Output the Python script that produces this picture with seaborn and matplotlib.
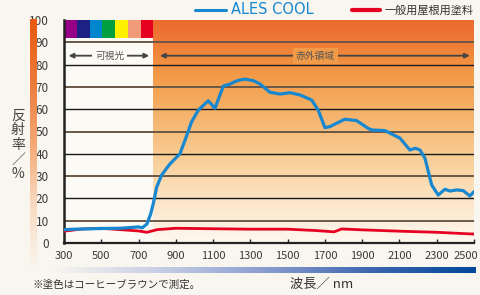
import numpy as np
import pandas as pd
import seaborn as sns
import matplotlib.pyplot as plt
import matplotlib.transforms as mtransforms
from matplotlib.colors import LinearSegmentedColormap
from matplotlib.lines import Line2D

# data
ales_nm = [300, 400, 500, 600, 650, 700, 720, 745, 765, 780, 797, 824, 869, 922, 949, 985,
           1021, 1074, 1110, 1155, 1191, 1230, 1271, 1316, 1352, 1405, 1459, 1512, 1566,
           1629, 1664, 1700, 1727, 1770, 1807, 1870, 1932, 1951, 2022, 2103, 2156, 2185,
           2210, 2237, 2273, 2308, 2344, 2371, 2407, 2442, 2478, 2500]
ales_val = [6.0, 6.3, 6.5, 6.6, 6.9, 7.2, 6.8, 8.5, 13, 18, 25, 30.5, 35.5, 40, 46, 54.4,
            59.6, 63.8, 60.4, 70.4, 71.3, 72.8, 73.5, 72.8, 71.3, 67.6, 66.8, 67.4, 66.4,
            64.1, 59.6, 51.7, 52.2, 54.0, 55.5, 54.9, 51.4, 50.7, 50.4, 47.0, 41.7, 42.5,
            41.7, 38.0, 26.0, 21.5, 24.1, 23.3, 23.8, 23.5, 21.1, 23.0]
gen_nm = [300, 400, 500, 600, 700, 745, 800, 900, 1100, 1300, 1500, 1650, 1750, 1790,
          1900, 2100, 2300, 2500]
gen_val = [5.3, 6.3, 6.6, 6.0, 5.4, 4.8, 6.0, 6.6, 6.4, 6.2, 6.2, 5.6, 5.0, 6.3, 5.9,
           5.3, 4.8, 4.0]
xticks = list(range(300, 2600, 200))
yticks = list(range(0, 110, 10))
spectrum = ['#960087', '#1d2183', '#0086cc', '#00a041', '#fff100', '#f29b78', '#e60020']
visible_end = 780

ales = pd.DataFrame({'nm': ales_nm, 'val': ales_val})
gen = pd.DataFrame({'nm': gen_nm, 'val': gen_val})

sns.set_theme(style='white')
plt.rcParams['font.family'] = ['Noto Sans CJK JP', 'DejaVu Sans']

bg = '#f9f6ef'
fig = plt.figure(figsize=(4.8, 2.95), dpi=100, facecolor=bg)
ax = fig.add_axes([64/480, 1-243/295, 410/480, 223/295])
ax.set_facecolor('#fcfaf5')

# infrared gradient
ir_cmap = LinearSegmentedColormap.from_list('ir', ['#fff8f0', '#fdeedb', '#fce3c3', '#fad8ab',
                                                  '#f8cb92', '#f6bd7b', '#f5b067', '#f3a352',
                                                  '#f19241', '#ef7b37', '#ec6a2e'])
grad = np.linspace(0, 1, 256).reshape(-1, 1)
ax.imshow(grad, cmap=ir_cmap, origin='lower', aspect='auto',
          extent=(visible_end, 2500, 0, 100), zorder=0)

# spectrum strip
w = (visible_end - 300) / len(spectrum)
ax.bar([300 + w*(i+0.5) for i in range(len(spectrum))], 8, bottom=92, width=w,
       color=spectrum, linewidth=0, zorder=1)

for y in yticks[1:-1]:
    if y % 20:
        ax.axhline(y, color='#6a5848', lw=1.4, zorder=2)
    else:
        ax.axhline(y, color='#1a1a1a', lw=1.0, zorder=2)

# arrows
ax.annotate('', xy=(310, 84), xytext=(772, 84),
            arrowprops=dict(arrowstyle='<|-|>', color='#444444', lw=1.3, mutation_scale=7), zorder=3)
ax.annotate('', xy=(800, 84), xytext=(2492, 84),
            arrowprops=dict(arrowstyle='<|-|>', color='#444444', lw=1.3, mutation_scale=7), zorder=3)
ax.text(545, 84, '可視光', ha='center', va='center', fontsize=7, color='#555555', zorder=4,
        bbox=dict(boxstyle='square,pad=0.3', fc='#fcfaf5', ec='none'))
ax.text(1650, 84, '赤外領域', ha='center', va='center', fontsize=7, color='#555555', zorder=4,
        bbox=dict(boxstyle='square,pad=0.3', fc='#f19a48', ec='none'))

sns.lineplot(data=gen, x='nm', y='val', ax=ax, color='#e60022', lw=2.0, zorder=5)
sns.lineplot(data=ales, x='nm', y='val', ax=ax, color='#1787d0', lw=2.3, zorder=6)

ax.set_xlim(300, 2500)
ax.set_ylim(0, 100)
ax.set_xticks(xticks)
ax.set_yticks(yticks)
ax.set_xlabel('')
ax.set_ylabel('')
for s in ['top', 'right']:
    ax.spines[s].set_visible(False)
ax.spines['left'].set_color('#222222')
ax.spines['left'].set_linewidth(1.8)
ax.spines['bottom'].set_color('#222222')
ax.spines['bottom'].set_linewidth(1.6)
ax.tick_params(axis='x', direction='in', length=3, width=1, color='#222222', pad=6,
               labelsize=8, labelcolor='#3a3a3a', bottom=True)
ax.tick_params(axis='y', length=0, pad=11, labelsize=8.5, labelcolor='#3a3a3a')

# left orange bar
cax = fig.add_axes([30/480, 1-270/295, 7/480, 251/295])
cbar_cmap = LinearSegmentedColormap.from_list('lb', [bg, '#f9dcc4', '#f4a977', '#ec7a3a', '#e85a0f'])
cax.imshow(grad, cmap=cbar_cmap, origin='lower', aspect='auto')
cax.axis('off')

# bottom blue bar
bax = fig.add_axes([50/480, 1-273/295, 426/480, 6/295])
bbar_cmap = LinearSegmentedColormap.from_list('bb', [bg, '#c9cfe6', '#8a9ed0', '#3f67b0', '#00489a'])
bax.imshow(grad.T, cmap=bbar_cmap, aspect='auto')
bax.axis('off')

fig.text(18/480, 1-145/295, '反\n射\n率\n／\n%', ha='center', va='center', fontsize=10,
         color='#444444', linespacing=1.05)
fig.text(32/480, 1-285/295, '※塗色はコーヒーブラウンで測定。', ha='left', va='center',
         fontsize=7.6, color='#333333')
fig.text(290/480, 1-284/295, '波長／ nm', ha='left', va='center', fontsize=9.5, color='#333333')

# legend
fig.add_artist(Line2D([195/480, 226/480], [1-10/295, 1-10/295], color='#1787d0', lw=2.2))
fig.text(231/480, 1-10/295, 'ALES COOL', ha='left', va='center', fontsize=10.5,
         color='#1787d0', family=['DejaVu Sans'])
fig.add_artist(Line2D([352/480, 380/480], [1-10/295, 1-10/295], color='#e60022', lw=3))
fig.text(385/480, 1-10/295, '一般用屋根用塗料', ha='left', va='center', fontsize=8,
         color='#333333')

# keep the last x label inside the figure
last = ax.get_xticklabels()[-1]
last.set_transform(last.get_transform() +
                   mtransforms.ScaledTranslation(-8/100, 0, fig.dpi_scale_trans))

fig.savefig('out.png', dpi=100, facecolor=bg)
